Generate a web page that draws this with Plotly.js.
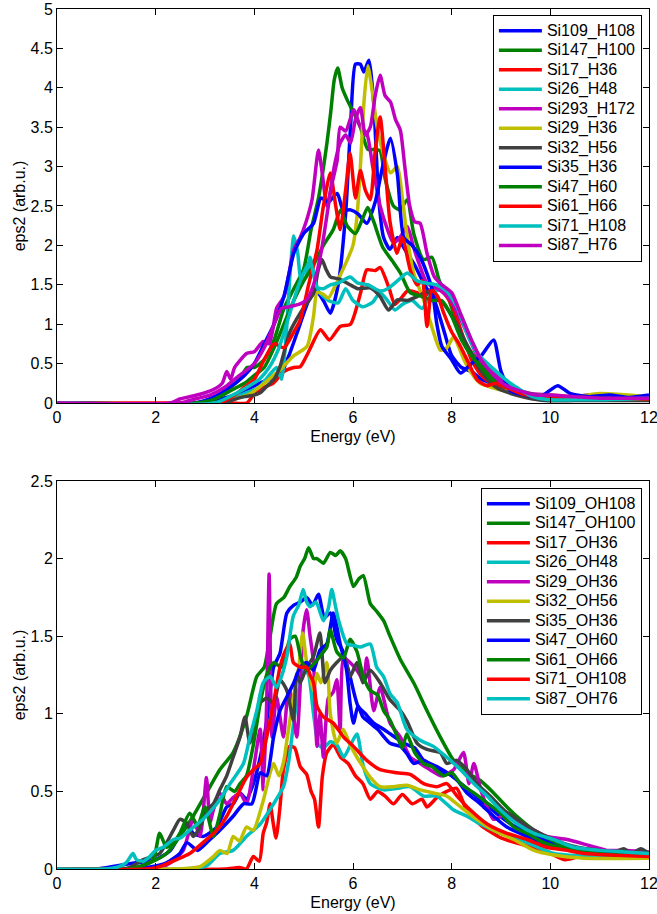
<!DOCTYPE html>
<html>
<head>
<meta charset="utf-8">
<script src="https://cdn.plot.ly/plotly-3.0.1.min.js"></script>
<style>html,body{margin:0;padding:0;background:#fff;}#chart{width:657px;height:914px;}</style>
</head>
<body>
<div id="chart"></div>
<script>
// ---------- colours (MATLAB classic cycle) ----------
const C_BLUE = '#0000ff', C_GREEN = '#008000', C_RED = '#ff0000', C_CYAN = '#00bfbf',
      C_MAG = '#bf00bf', C_YEL = '#bfbf00', C_GRAY = '#404040';

// ---------- top panel: H-terminated clusters ----------
const x_Si109_H108 = [0,3.0,3.3,3.6,3.85,4.1,4.3,4.5,4.7,4.9,5.1,5.25,5.4,5.54,5.7,5.85,5.95,6.05,6.15,6.22,6.32,6.42,6.52,6.62,6.75,6.9,7.05,7.25,7.45,7.65,7.85,8.0,8.2,8.4,8.6,8.8,9.0,9.3,9.6,10.0,10.5,11.0,11.5,12];
const y_Si109_H108 = [0,0,0.05,0.1,0.17,0.25,0.3,0.33,0.6,0.95,1.3,1.42,1.3,1.14,1.5,2.4,3.5,4.3,4.3,4.2,4.35,3.8,2.6,2.1,1.95,2.1,1.95,1.75,1.5,1.3,0.9,0.6,0.45,0.4,0.3,0.25,0.2,0.12,0.1,0.08,0.08,0.1,0.06,0.06];

const x_Si147_H100 = [0,2.8,3.1,3.4,3.7,3.85,4.0,4.2,4.4,4.6,4.8,5.0,5.15,5.3,5.45,5.55,5.62,5.69,5.78,5.88,6.0,6.15,6.3,6.45,6.55,6.65,6.82,6.95,7.1,7.23,7.43,7.6,7.75,7.95,8.2,8.5,8.8,9.1,9.4,9.8,10.3,11.0,12];
const y_Si147_H100 = [0,0,0.05,0.15,0.3,0.45,0.45,0.55,0.8,1.2,1.45,1.7,2.2,2.6,3.2,3.7,4.1,4.25,4.0,3.85,3.7,3.5,3.22,3.22,3.2,2.85,2.5,2.45,2.58,2.15,1.82,1.85,1.55,1.3,0.85,0.55,0.35,0.2,0.12,0.07,0.05,0.05,0.05];

const x_Si17_H36 = [0,3.5,3.85,3.98,4.2,4.38,4.6,4.8,4.93,5.1,5.34,5.52,5.74,5.95,6.15,6.28,6.45,6.55,6.73,6.85,7.0,7.1,7.3,7.45,7.6,7.8,8.0,8.2,8.4,8.6,8.8,9.0,9.3,9.6,10.0,11.0,12];
const y_Si17_H36 = [0,0,0,0.1,0.2,0.25,0.4,0.45,0.46,0.65,0.93,0.8,0.97,1.0,1.39,1.69,1.68,1.72,1.46,1.25,1.35,1.42,1.4,1.35,1.45,1.42,1.25,0.9,0.55,0.35,0.25,0.18,0.12,0.08,0.06,0.05,0.05];

const x_Si26_H48 = [0,3.2,3.5,3.8,4.1,4.3,4.45,4.55,4.65,4.72,4.8,4.88,4.95,5.05,5.13,5.22,5.3,5.5,5.7,5.85,6.0,6.2,6.4,6.55,6.7,6.85,7.0,7.2,7.4,7.6,7.8,8.0,8.2,8.4,8.6,8.85,9.1,9.4,9.7,10.0,11.0,12];
const y_Si26_H48 = [0,0,0.05,0.12,0.2,0.35,0.45,0.3,0.9,1.6,2.12,1.9,1.55,1.6,1.85,1.6,1.42,1.3,1.27,1.45,1.3,1.22,1.28,1.4,1.3,1.18,1.25,1.3,1.2,1.4,1.45,1.35,1.1,0.8,0.55,0.4,0.25,0.15,0.08,0.04,0.04,0.05];

const x_Si293_H172 = [0,2.3,2.49,2.9,3.17,3.35,3.44,3.52,3.6,3.85,4.0,4.18,4.3,4.38,4.45,4.6,4.72,4.8,4.93,5.05,5.17,5.3,5.38,5.47,5.58,5.68,5.74,5.85,6.02,6.15,6.28,6.4,6.55,6.7,6.82,6.95,7.1,7.23,7.35,7.5,7.77,7.97,8.25,8.52,8.8,9.0,9.3,9.6,10.0,10.3,10.8,11.3,12];
const y_Si293_H172 = [0,0,0.05,0.11,0.17,0.25,0.4,0.3,0.45,0.63,0.65,0.78,0.75,0.95,1.2,1.35,1.7,1.95,2.1,2.3,2.58,3.21,2.9,2.5,2.8,3.08,3.5,3.45,3.72,3.5,3.42,3.0,2.5,2.2,2.03,2.1,2.24,1.97,1.75,1.52,1.43,1.31,0.97,0.6,0.4,0.3,0.18,0.12,0.1,0.07,0.1,0.08,0.08];

const x_Si29_H36 = [0,3.3,3.6,3.9,4.2,4.52,4.8,5.07,5.2,5.27,5.4,5.5,5.65,5.8,5.88,6.0,6.08,6.15,6.22,6.3,6.38,6.49,6.6,6.76,6.9,7.0,7.1,7.23,7.43,7.64,7.77,7.9,8.04,8.15,8.25,8.4,8.58,8.8,9.1,9.5,10.0,10.5,11.0,12];
const y_Si29_H36 = [0,0,0.05,0.11,0.25,0.42,0.6,0.72,1.1,1.4,1.38,1.33,1.5,1.7,1.81,2.0,2.36,3.0,3.8,4.28,4.0,3.5,3.2,2.92,3.0,2.6,2.1,1.65,1.31,0.88,0.67,0.7,0.84,0.7,0.55,0.38,0.25,0.2,0.15,0.1,0.1,0.08,0.12,0.08];

const x_Si32_H56 = [0,3.4,3.57,3.8,4.0,4.12,4.25,4.4,4.52,4.72,4.93,5.05,5.2,5.3,5.37,5.45,5.54,5.74,5.94,6.1,6.35,6.55,6.72,6.9,7.1,7.3,7.5,7.65,7.85,8.1,8.3,8.5,8.7,8.9,9.2,9.5,9.9,10.5,11.0,12];
const y_Si32_H56 = [0,0,0.04,0.08,0.1,0.13,0.21,0.3,0.46,0.9,1.14,1.25,1.39,1.7,1.82,1.7,1.6,1.57,1.5,1.45,1.46,1.35,1.18,1.31,1.3,1.35,1.41,1.35,1.25,1.0,0.75,0.5,0.32,0.2,0.12,0.07,0.03,0.03,0.03,0.03];

const x_Si35_H36 = [0,2.8,3.2,3.5,3.8,4.0,4.2,4.4,4.6,4.8,5.0,5.2,5.35,5.5,5.68,5.8,5.95,6.1,6.28,6.45,6.6,6.76,6.9,7.03,7.2,7.4,7.6,7.7,7.8,8.0,8.18,8.4,8.6,8.85,9.0,9.2,9.5,9.8,10.15,10.4,10.8,11.2,11.6,12];
const y_Si35_H36 = [0,0,0.08,0.2,0.35,0.5,0.75,1.0,1.35,1.9,2.15,2.28,2.6,2.55,2.66,2.45,2.45,2.4,2.28,2.55,3.0,3.36,2.9,2.1,2.0,1.8,1.45,1.0,0.72,0.55,0.38,0.5,0.6,0.8,0.4,0.15,0.1,0.08,0.22,0.12,0.08,0.1,0.07,0.1];

const x_Si47_H60 = [0,2.8,3.2,3.5,3.8,4.0,4.2,4.4,4.6,4.8,5.0,5.2,5.4,5.6,5.75,5.88,6.05,6.2,6.3,6.42,6.6,6.8,6.96,7.16,7.4,7.6,7.8,8.0,8.2,8.4,8.6,8.8,9.1,9.4,9.7,10.2,11.0,12];
const y_Si47_H60 = [0,0,0.05,0.15,0.25,0.35,0.45,0.7,1.0,1.3,1.55,1.75,2.0,2.2,2.45,2.25,2.15,2.35,2.48,2.3,1.98,1.8,1.65,1.4,1.35,1.3,1.3,1.1,0.8,0.6,0.45,0.3,0.2,0.15,0.1,0.08,0.06,0.05];

const x_Si61_H66 = [0,3.3,3.6,3.8,4.0,4.2,4.4,4.6,4.8,4.93,5.1,5.27,5.4,5.54,5.65,5.74,5.85,5.94,6.05,6.15,6.25,6.35,6.45,6.55,6.65,6.75,6.89,7.0,7.16,7.3,7.4,7.5,7.6,7.72,7.84,8.0,8.15,8.31,8.52,8.72,8.9,9.1,9.4,9.8,10.5,12];
const y_Si61_H66 = [0,0,0.1,0.2,0.3,0.55,0.75,0.7,0.9,1.05,1.5,1.94,2.5,2.92,2.5,2.2,2.7,3.17,2.6,2.95,2.7,2.58,3.2,3.63,3.0,2.3,1.9,2.1,1.69,1.5,1.55,0.97,1.43,1.35,1.14,0.9,0.75,0.55,0.29,0.22,0.25,0.2,0.12,0.08,0.06,0.05];

const x_Si71_H108 = [0,3.2,3.5,3.8,4.1,4.3,4.5,4.7,4.9,5.0,5.13,5.27,5.4,5.54,5.7,5.94,6.1,6.3,6.55,6.7,6.9,7.1,7.3,7.5,7.7,7.9,8.11,8.31,8.52,8.85,9.19,9.64,10.0,10.5,11.0,12];
const y_Si71_H108 = [0,0,0.08,0.18,0.3,0.45,0.7,1.1,1.5,1.65,1.8,1.47,1.45,1.5,1.52,1.6,1.52,1.5,1.42,1.45,1.55,1.65,1.55,1.52,1.5,1.42,1.22,0.88,0.63,0.43,0.25,0.08,0.04,0.04,0.04,0.06];

const x_Si87_H76 = [0,2.5,2.8,3.1,3.4,3.7,4.0,4.2,4.4,4.55,4.7,4.9,5.05,5.2,5.35,5.5,5.62,5.74,5.85,5.95,6.05,6.15,6.25,6.35,6.45,6.55,6.65,6.76,6.86,6.96,7.05,7.15,7.25,7.36,7.5,7.65,7.8,8.0,8.2,8.4,8.6,8.85,9.1,9.4,9.7,10.0,10.5,11.0,12];
const y_Si87_H76 = [0,0,0.05,0.1,0.2,0.35,0.5,0.7,1.0,1.2,1.22,1.25,1.3,1.5,1.9,2.5,3.0,3.3,3.4,3.3,3.6,3.75,3.4,3.5,3.9,4.16,3.9,3.82,3.6,3.46,3.0,2.5,2.3,2.28,1.9,1.6,1.5,1.4,1.1,0.8,0.55,0.35,0.22,0.15,0.1,0.1,0.08,0.06,0.06];

// ---------- bottom panel: OH-terminated clusters ----------
const x_Si109_OH108 = [0,0.8,1.2,1.6,2.0,2.3,2.63,2.76,2.96,3.24,3.44,3.57,3.71,3.84,3.98,4.12,4.25,4.39,4.52,4.66,4.8,4.93,5.06,5.18,5.3,5.42,5.54,5.67,5.8,5.94,6.1,6.25,6.42,6.62,6.8,7.03,7.25,7.43,7.7,8.0,8.3,8.6,8.9,9.2,9.5,9.8,10.1,10.5,11.0,11.5,12];
const y_Si109_OH108 = [0,0,0.02,0.04,0.06,0.12,0.29,0.23,0.21,0.27,0.4,0.42,0.49,0.45,0.55,0.72,0.95,1.3,1.39,1.65,1.7,1.72,1.75,1.7,1.77,1.62,1.65,1.48,1.4,1.24,1.05,1.0,0.94,0.9,0.86,0.81,0.78,0.7,0.66,0.6,0.52,0.44,0.36,0.29,0.24,0.2,0.16,0.13,0.11,0.1,0.09];

const x_Si147_OH100 = [0,1.2,1.6,1.88,2.22,2.49,2.76,3.03,3.3,3.57,3.84,4.05,4.2,4.32,4.45,4.6,4.72,4.85,4.93,5.02,5.1,5.2,5.27,5.4,5.54,5.65,5.74,5.85,6.01,6.12,6.21,6.35,6.48,6.62,6.75,6.96,7.23,7.5,7.77,8.04,8.31,8.58,8.85,9.12,9.39,9.67,10.0,10.34,10.68,11.0,11.5,12];
const y_Si147_OH100 = [0,0,0.01,0.04,0.1,0.21,0.34,0.49,0.64,0.75,0.98,1.24,1.3,1.5,1.71,1.75,1.82,1.88,1.95,2.0,2.07,2.0,2.0,1.97,2.04,2.02,2.05,2.0,1.82,1.87,1.89,1.71,1.66,1.6,1.5,1.35,1.2,1.02,0.85,0.7,0.62,0.57,0.49,0.4,0.32,0.25,0.19,0.14,0.12,0.11,0.1,0.09];

const x_Si17_OH36 = [0,3.4,3.7,3.84,3.98,4.1,4.18,4.25,4.32,4.38,4.44,4.52,4.59,4.72,4.82,4.93,5.06,5.15,5.22,5.3,5.38,5.47,5.6,5.75,5.9,6.05,6.2,6.35,6.5,6.65,6.82,7.0,7.2,7.4,7.5,7.7,7.9,8.1,8.3,8.6,9.0,9.5,10.0,10.3,10.6,11.0,11.5,12];
const y_Si17_OH36 = [0,0,0.01,0,0.08,0.05,0.23,0.3,0.42,0.3,0.2,0.4,0.64,0.79,0.78,0.66,0.61,0.5,0.45,0.27,0.6,0.75,0.8,0.72,0.68,0.6,0.55,0.45,0.5,0.47,0.42,0.48,0.42,0.45,0.4,0.46,0.5,0.52,0.38,0.28,0.2,0.15,0.1,0.06,0.08,0.07,0.07,0.07];

const x_Si26_OH48 = [0,2.6,3.03,3.3,3.57,3.84,4.12,4.39,4.59,4.7,4.8,4.9,5.0,5.1,5.2,5.3,5.4,5.54,5.67,5.81,5.95,6.08,6.21,6.35,6.62,6.9,7.16,7.43,7.7,8.04,8.31,8.58,8.99,9.53,10.07,11.0,12];
const y_Si26_OH48 = [0,0,0.02,0.1,0.12,0.21,0.29,0.42,0.53,0.7,0.95,1.15,1.3,1.25,1.0,0.8,0.78,0.82,0.8,0.72,0.8,0.87,0.66,0.55,0.51,0.52,0.53,0.47,0.47,0.38,0.34,0.29,0.23,0.17,0.1,0.08,0.08];

const x_Si29_OH36 = [0,2.0,2.3,2.56,2.76,2.9,3.03,3.1,3.17,3.3,3.44,3.57,3.71,3.84,3.98,4.12,4.18,4.25,4.3,4.36,4.45,4.59,4.66,4.72,4.86,4.99,5.06,5.13,5.2,5.27,5.33,5.4,5.5,5.6,5.67,5.74,5.81,5.94,6.08,6.21,6.28,6.42,6.55,6.75,6.96,7.16,7.36,7.56,7.8,8.04,8.24,8.35,8.45,8.6,8.85,9.1,9.4,9.67,9.93,10.34,10.8,11.15,11.56,12];
const y_Si29_OH36 = [0,0,0.04,0.12,0.32,0.21,0.59,0.3,0.38,0.49,0.42,0.46,0.49,0.42,0.64,0.9,0.51,1.07,1.9,0.85,1.11,0.85,1.07,1.15,0.85,1.54,1.67,1.5,1.33,0.79,1.0,0.72,1.1,1.14,1.22,0.9,1.36,1.33,1.28,1.22,1.36,1.02,1.17,0.94,0.85,0.72,0.68,0.64,0.6,0.64,0.75,0.55,0.68,0.5,0.32,0.35,0.29,0.25,0.21,0.19,0.15,0.12,0.12,0.11];

const x_Si32_OH56 = [0,2.2,2.42,2.9,3.17,3.3,3.45,3.57,3.7,3.84,3.98,4.18,4.32,4.39,4.5,4.6,4.66,4.79,4.9,4.98,5.06,5.13,5.2,5.27,5.35,5.47,5.54,5.67,5.8,5.94,6.08,6.2,6.35,6.55,6.82,7.09,7.36,7.63,7.9,8.18,8.51,8.85,9.26,9.67,10.07,10.68,12];
const y_Si32_OH56 = [0,0,0,0.015,0.08,0.12,0.1,0.21,0.18,0.27,0.25,0.44,0.62,0.68,0.6,0.7,0.83,1.1,1.3,1.52,1.33,1.24,1.15,1.26,1.2,1.33,1.0,0.81,0.9,0.8,0.72,0.66,0.59,0.53,0.53,0.54,0.51,0.49,0.47,0.4,0.32,0.25,0.19,0.12,0.09,0.07,0.07];

const x_Si35_OH36 = [0,1.4,1.75,2.08,2.36,2.49,2.62,2.76,2.9,3.03,3.17,3.3,3.44,3.57,3.71,3.81,3.91,4.0,4.12,4.25,4.39,4.52,4.66,4.79,4.86,4.93,5.06,5.2,5.33,5.43,5.54,5.67,5.81,5.94,6.08,6.2,6.35,6.55,6.75,6.96,7.1,7.3,7.5,7.77,7.9,8.1,8.31,8.51,8.78,9.06,9.33,9.67,10.07,10.55,11.0,11.3,11.49,11.65,11.83,12];
const y_Si35_OH36 = [0,0,0.06,0.1,0.25,0.32,0.3,0.21,0.27,0.38,0.42,0.51,0.6,0.72,0.85,0.98,0.81,0.9,1.07,1.1,1.07,1.22,1.15,0.96,1.26,1.2,1.3,1.37,1.52,1.2,1.28,1.33,1.37,1.24,1.33,1.2,1.28,1.2,1.09,1.02,0.95,0.81,0.77,0.75,0.68,0.7,0.64,0.55,0.47,0.38,0.32,0.25,0.19,0.14,0.12,0.11,0.13,0.1,0.13,0.1];

const x_Si47_OH60 = [0,1.5,2.0,2.22,2.49,2.63,2.85,3.1,3.3,3.57,3.78,3.95,4.12,4.25,4.39,4.52,4.66,4.8,4.93,5.06,5.2,5.33,5.47,5.6,5.74,5.87,5.94,6.01,6.1,6.2,6.35,6.5,6.75,6.96,7.1,7.23,7.43,7.63,7.84,8.04,8.31,8.58,8.85,9.12,9.39,9.67,10.07,10.48,11.0,11.5,12];
const y_Si47_OH60 = [0,0,0.02,0.04,0.1,0.17,0.12,0.19,0.25,0.34,0.42,0.42,0.62,0.6,0.85,1.02,1.11,1.2,1.3,1.33,1.28,1.41,1.45,1.65,1.45,1.28,1.07,0.94,1.05,0.98,0.94,0.9,0.81,0.79,0.74,0.68,0.7,0.66,0.62,0.6,0.49,0.42,0.34,0.27,0.23,0.19,0.14,0.12,0.1,0.09,0.09];

const x_Si61_OH66 = [0,1.4,1.68,1.95,2.08,2.22,2.36,2.49,2.69,2.85,3.0,3.17,3.3,3.44,3.6,3.71,3.84,3.98,4.12,4.25,4.39,4.55,4.72,4.83,4.95,5.06,5.2,5.33,5.47,5.54,5.67,5.81,5.94,6.08,6.21,6.35,6.5,6.62,6.75,6.9,7.0,7.09,7.25,7.43,7.6,7.84,8.0,8.18,8.45,8.7,8.99,9.26,9.53,9.87,10.34,11.0,11.5,12];
const y_Si61_OH66 = [0,0,0.015,0.06,0.23,0.14,0.17,0.23,0.36,0.28,0.4,0.21,0.35,0.53,0.5,0.55,0.6,0.8,1.07,1.25,1.33,1.3,1.48,1.5,1.35,1.28,1.32,1.37,1.43,1.54,1.4,1.36,1.48,1.4,1.24,1.15,1.12,1.02,0.96,0.85,0.78,0.87,0.75,0.68,0.66,0.6,0.62,0.55,0.49,0.43,0.36,0.27,0.23,0.17,0.13,0.1,0.09,0.09];

const x_Si71_OH108 = [0,1.8,2.08,2.42,2.69,2.96,3.24,3.44,3.57,3.71,3.84,3.98,4.12,4.25,4.39,4.52,4.62,4.72,4.79,4.93,5.06,5.13,5.2,5.27,5.4,5.6,5.81,6.01,6.28,6.55,6.89,7.16,7.43,7.7,7.9,8.11,8.38,8.72,9.12,9.53,9.93,10.34,10.68,11.2,12];
const y_Si71_OH108 = [0,0,0.015,0.06,0.1,0.17,0.25,0.34,0.42,0.51,0.59,0.64,0.68,0.85,1.07,1.3,1.4,1.45,1.33,1.3,1.3,1.25,1.2,1.05,0.98,0.94,0.85,0.79,0.7,0.64,0.62,0.61,0.55,0.53,0.55,0.47,0.38,0.29,0.23,0.19,0.14,0.12,0.1,0.09,0.08];

const x_Si87_OH76 = [0,1.0,1.2,1.4,1.54,1.61,1.75,1.88,2.0,2.15,2.36,2.5,2.69,2.96,3.24,3.51,3.78,3.91,4.05,4.18,4.32,4.45,4.56,4.66,4.79,4.9,4.99,5.06,5.13,5.25,5.4,5.5,5.57,5.64,5.71,5.88,6.02,6.15,6.35,6.48,6.62,6.75,6.9,7.09,7.36,7.63,7.9,8.18,8.45,8.72,8.99,9.33,9.67,10.07,10.48,11.0,11.5,12];
const y_Si87_OH76 = [0,0,0.01,0.04,0.1,0.06,0.05,0.08,0.12,0.14,0.19,0.2,0.25,0.32,0.42,0.55,0.68,0.85,1.02,1.2,1.24,1.17,1.25,1.37,1.63,1.7,1.8,1.72,1.69,1.72,1.6,1.68,1.8,1.7,1.6,1.45,1.44,1.43,1.45,1.3,1.24,1.13,1.07,0.9,0.83,0.79,0.72,0.64,0.55,0.47,0.38,0.29,0.23,0.19,0.14,0.12,0.11,0.1];

// ---------- series tables ----------
const topSeries = [
  ['Si109_H108', x_Si109_H108, y_Si109_H108, C_BLUE],
  ['Si147_H100', x_Si147_H100, y_Si147_H100, C_GREEN],
  ['Si17_H36',   x_Si17_H36,   y_Si17_H36,   C_RED],
  ['Si26_H48',   x_Si26_H48,   y_Si26_H48,   C_CYAN],
  ['Si293_H172', x_Si293_H172, y_Si293_H172, C_MAG],
  ['Si29_H36',   x_Si29_H36,   y_Si29_H36,   C_YEL],
  ['Si32_H56',   x_Si32_H56,   y_Si32_H56,   C_GRAY],
  ['Si35_H36',   x_Si35_H36,   y_Si35_H36,   C_BLUE],
  ['Si47_H60',   x_Si47_H60,   y_Si47_H60,   C_GREEN],
  ['Si61_H66',   x_Si61_H66,   y_Si61_H66,   C_RED],
  ['Si71_H108',  x_Si71_H108,  y_Si71_H108,  C_CYAN],
  ['Si87_H76',   x_Si87_H76,   y_Si87_H76,   C_MAG]
];
const bottomSeries = [
  ['Si109_OH108', x_Si109_OH108, y_Si109_OH108, C_BLUE],
  ['Si147_OH100', x_Si147_OH100, y_Si147_OH100, C_GREEN],
  ['Si17_OH36',   x_Si17_OH36,   y_Si17_OH36,   C_RED],
  ['Si26_OH48',   x_Si26_OH48,   y_Si26_OH48,   C_CYAN],
  ['Si29_OH36',   x_Si29_OH36,   y_Si29_OH36,   C_MAG],
  ['Si32_OH56',   x_Si32_OH56,   y_Si32_OH56,   C_YEL],
  ['Si35_OH36',   x_Si35_OH36,   y_Si35_OH36,   C_GRAY],
  ['Si47_OH60',   x_Si47_OH60,   y_Si47_OH60,   C_BLUE],
  ['Si61_OH66',   x_Si61_OH66,   y_Si61_OH66,   C_GREEN],
  ['Si71_OH108',  x_Si71_OH108,  y_Si71_OH108,  C_RED],
  ['Si87_OH76',   x_Si87_OH76,   y_Si87_OH76,   C_CYAN]
];

// legend label: drawn at 16px while the row pitch follows the legend font size
const lbl = s => '<span style="font-size:16px">' + s + '</span>';

const traces = [];
topSeries.forEach(s => traces.push({
  type: 'scatter', mode: 'lines', name: lbl(s[0]), x: s[1], y: s[2],
  xaxis: 'x', yaxis: 'y', legend: 'legend',
  line: {color: s[3], width: 3.5, shape: 'spline', smoothing: 0.6}
}));
bottomSeries.forEach(s => traces.push({
  type: 'scatter', mode: 'lines', name: lbl(s[0]), x: s[1], y: s[2],
  xaxis: 'x2', yaxis: 'y2', legend: 'legend2',
  line: {color: s[3], width: 3.5, shape: 'spline', smoothing: 0.6}
}));

const FONT = 'Liberation Sans, Arial, Helvetica, sans-serif';
const axBase = {
  showline: true, linecolor: '#000', linewidth: 1, mirror: 'ticks',
  ticks: 'inside', ticklen: 6, tickwidth: 1, tickcolor: '#000',
  showgrid: false, zeroline: false, fixedrange: true,
  ticklabeloverflow: 'allow',
  tickfont: {size: 16, color: '#000'}
};
const xTicks = [0,2,4,6,8,10,12];

const layout = {
  width: 657, height: 914,
  margin: {l: 57, r: 8, t: 9, b: 45},
  paper_bgcolor: '#fff', plot_bgcolor: '#fff',
  font: {family: FONT, color: '#000', size: 16},
  showlegend: true,
  xaxis: Object.assign({}, axBase, {
    domain: [0, 1], anchor: 'y', range: [0, 12], tickvals: xTicks,
    title: {text: 'Energy (eV)', font: {size: 16}, standoff: 5}
  }),
  yaxis: Object.assign({}, axBase, {
    domain: [0.5419, 1], anchor: 'x', range: [0, 5], dtick: 0.5, tick0: 0,
    title: {text: 'eps2 (arb.u.)', font: {size: 16}, standoff: 0}
  }),
  xaxis2: Object.assign({}, axBase, {
    domain: [0, 1], anchor: 'y2', range: [0, 12], tickvals: xTicks,
    title: {text: 'Energy (eV)', font: {size: 16}, standoff: 5}
  }),
  yaxis2: Object.assign({}, axBase, {
    domain: [0, 0.4512], anchor: 'x2', range: [0, 2.5], dtick: 0.5, tick0: 0,
    title: {text: 'eps2 (arb.u.)', font: {size: 16}, standoff: 0}
  }),
  legend: {
    x: 0.988, xanchor: 'right', y: 0.993, yanchor: 'top',
    bgcolor: '#fff', bordercolor: '#000', borderwidth: 1,
    font: {size: 12.7}, itemwidth: 43, tracegroupgap: 0, itemclick: false
  },
  legend2: {
    x: 0.988, xanchor: 'right', y: 0.443, yanchor: 'top',
    bgcolor: '#fff', bordercolor: '#000', borderwidth: 1,
    font: {size: 12.7}, itemwidth: 43, tracegroupgap: 0, itemclick: false
  }
};

Plotly.newPlot('chart', traces, layout, {staticPlot: true, displayModeBar: false});
</script>
</body>
</html>
